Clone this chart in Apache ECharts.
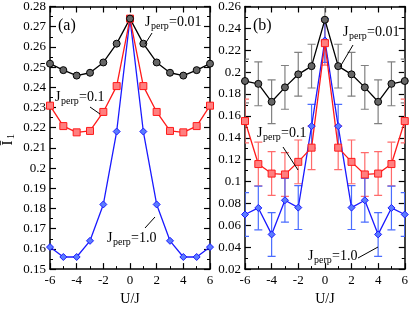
<!DOCTYPE html>
<html><head><meta charset="utf-8">
<script src="https://cdn.jsdelivr.net/npm/echarts@6/dist/echarts.min.js"></script>
<style>html,body{margin:0;padding:0;background:#fff}#c{width:411px;height:311px}</style>
</head><body><div id="c"></div>
<script>
const uj = [-6,-5,-4,-3,-2,-1,0,1,2,3,4,5,6];
// panel (a)
const a_j001 = [0.2517,0.2485,0.2458,0.2472,0.2523,0.2616,0.2740,0.2616,0.2523,0.2472,0.2458,0.2485,0.2517];
const a_j01  = [0.2309,0.2208,0.2177,0.2184,0.2278,0.2406,0.2740,0.2406,0.2278,0.2184,0.2177,0.2208,0.2309];
const a_j10  = [0.1609,0.1560,0.1560,0.1640,0.1820,0.2181,0.2740,0.2181,0.1820,0.1640,0.1560,0.1560,0.1609];
// panel (b)
const b_j001 = [0.1919,0.1893,0.1729,0.1861,0.1980,0.2055,0.2479,0.2055,0.1980,0.1861,0.1729,0.1893,0.1919];
const b_j01  = [0.1553,0.1160,0.1073,0.1065,0.1180,0.1310,0.2265,0.1310,0.1180,0.1065,0.1073,0.1160,0.1553];
const b_j10  = [0.0699,0.0759,0.0517,0.0829,0.0762,0.1506,0.2290,0.1506,0.0762,0.0829,0.0517,0.0759,0.0699];
const b_err001 = [0.020,0.020,0.020,0.020,0.020,0.020,0.020,0.020,0.020,0.020,0.020,0.020,0.020];
const b_err01  = [0.020,0.020,0.020,0.020,0.020,0.020,0.020,0.020,0.020,0.020,0.020,0.020,0.020];
const b_err10  = [0.020,0.020,0.020,0.020,0.020,0.020,0.020,0.020,0.020,0.020,0.020,0.020,0.020];
const xTicks = [-6,-4,-2,0,2,4,6];

const FONT = '"Liberation Serif", "DejaVu Serif", serif';
const zip = (xs, ys) => xs.map((x,i)=>[x, ys[i]]);
const zipE = (xs, ys, es) => xs.map((x,i)=>[x, ys[i]-es[i], ys[i]+es[i]]);

function xAx(gi, pos, show) {
  return {
    gridIndex: gi, type: 'value', min: -6, max: 6, interval: 2, position: pos,
    name: show ? 'U/J' : '', nameLocation: 'middle', nameGap: 18,
    nameTextStyle: {fontFamily: FONT, fontSize: 14, color: '#000'},
    axisLine: {show: true, onZero: false, lineStyle: {color: '#000', width: 1.5}},
    axisTick: {show: true, inside: true, length: 6, lineStyle: {color: '#000', width: 1.2}},
    minorTick: {show: true, splitNumber: 2, length: 3, lineStyle: {color: '#000', width: 1}},
    axisLabel: {show: show, fontFamily: FONT, fontSize: 13, color: '#000', margin: 5,
      formatter: v => xTicks.includes(v) ? String(v) : ''},
    splitLine: {show: false}
  };
}
function yAx(gi, pos, show, min, max, interval) {
  return {
    gridIndex: gi, type: 'value', min, max, interval, position: pos,
    axisLine: {show: true, onZero: false, lineStyle: {color: '#000', width: 1.5}},
    axisTick: {show: true, inside: true, length: 6, lineStyle: {color: '#000', width: 1.2}},
    minorTick: {show: true, splitNumber: 2, length: 3, lineStyle: {color: '#000', width: 1}},
    axisLabel: {show: show, fontFamily: FONT, fontSize: 13, color: '#000', margin: 4,
      formatter: v => (+v.toFixed(3)).toString()},
    splitLine: {show: false}
  };
}

function lineS(xi, yi, data, color, fill, symbol, size) {
  return {
    type: 'line', xAxisIndex: xi, yAxisIndex: yi, data, symbol, symbolSize: size,
    lineStyle: {color, width: 1.3}, itemStyle: {color: fill, borderColor: color, borderWidth: 1},
    emphasis: {disabled: true}, animation: false, z: 3
  };
}
function errS(xi, yi, data, color) {
  return {
    type: 'custom', xAxisIndex: xi, yAxisIndex: yi, data, clip: true, z: 2, animation: false,
    renderItem: (params, api) => {
      const x = api.value(0);
      const lo = api.coord([x, api.value(1)]);
      const hi = api.coord([x, api.value(2)]);
      const w = 4;
      const st = {stroke: color, lineWidth: 1.2};
      return {type: 'group', children: [
        {type: 'line', shape: {x1: lo[0], y1: lo[1], x2: hi[0], y2: hi[1]}, style: st},
        {type: 'line', shape: {x1: lo[0]-w, y1: lo[1], x2: lo[0]+w, y2: lo[1]}, style: st},
        {type: 'line', shape: {x1: hi[0]-w, y1: hi[1], x2: hi[0]+w, y2: hi[1]}, style: st}
      ]};
    }
  };
}

function txt(x, y, t, size, align) {
  return {type: 'text', z: 10, x, y,
    style: {text: t, fontFamily: FONT, fontSize: size, fill: '#000', align: align || 'left', verticalAlign: 'middle'}};
}
function jLabel(x, base, val) {
  return {type: 'group', z: 10, children: [
    txt(x, base - 4.5, 'J', 14),
    txt(x + 6, base - 0.5, 'perp', 10),
    txt(x + 24, base - 4.5, '=' + val, 14)
  ]};
}
function leader(x1, y1, x2, y2) {
  return {type: 'line', z: 10, shape: {x1, y1, x2, y2}, style: {stroke: '#000', lineWidth: 1}};
}
function rotTxt(x, y, t, size) {
  return {type: 'text', z: 10, x, y, rotation: Math.PI / 2,
    style: {text: t, fontFamily: FONT, fontSize: size, fill: '#000', align: 'center', verticalAlign: 'middle'}};
}

const chart = echarts.init(document.getElementById('c'), null, {renderer: 'canvas'});
chart.setOption({
  animation: false,
  backgroundColor: '#fff',
  grid: [
    {left: 50, right: 201, top: 5, bottom: 28},
    {left: 245, right: 4, top: 6, bottom: 28}
  ],
  xAxis: [xAx(0, 'bottom', true), xAx(0, 'top', false), xAx(1, 'bottom', true), xAx(1, 'top', false)],
  yAxis: [
    yAx(0, 'left', true, 0.15, 0.28, 0.01), yAx(0, 'right', false, 0.15, 0.28, 0.01),
    yAx(1, 'left', true, 0.02, 0.26, 0.02), yAx(1, 'right', false, 0.02, 0.26, 0.02)
  ],
  series: [
    lineS(0, 0, zip(uj, a_j10), '#1a1aff', '#5b7cff', 'diamond', 7),
    lineS(0, 0, zip(uj, a_j01), '#ff1a1a', '#ff7f7f', 'rect', 7),
    lineS(0, 0, zip(uj, a_j001), '#000', '#666', 'circle', 7),
    errS(2, 2, zipE(uj, b_j001, b_err001), '#808080'),
    errS(2, 2, zipE(uj, b_j01, b_err01), '#ff6b6b'),
    errS(2, 2, zipE(uj, b_j10, b_err10), '#4a6cff'),
    lineS(2, 2, zip(uj, b_j10), '#1a1aff', '#5b7cff', 'diamond', 7),
    lineS(2, 2, zip(uj, b_j01), '#ff1a1a', '#ff7f7f', 'rect', 7),
    lineS(2, 2, zip(uj, b_j001), '#000', '#666', 'circle', 7)
  ],
  graphic: [
    txt(58, 26, '(a)', 16), txt(253, 26, '(b)', 16),
    rotTxt(8, 143, 'Ī', 15),
    rotTxt(11, 136.5, '1', 10),
    jLabel(145, 27, '0.01'), leader(152, 33, 145, 44),
    jLabel(55, 102, '0.1'), leader(90, 107, 100, 114),
    jLabel(107, 243, '1.0'), leader(145, 228, 155, 217),
    jLabel(343, 37, '0.01'), leader(353, 45, 340, 67),
    jLabel(257, 138, '0.1'), leader(283, 147, 298, 170),
    jLabel(308, 261, '1.0'), leader(358, 258, 378, 247)
  ]
});
</script></body></html>
